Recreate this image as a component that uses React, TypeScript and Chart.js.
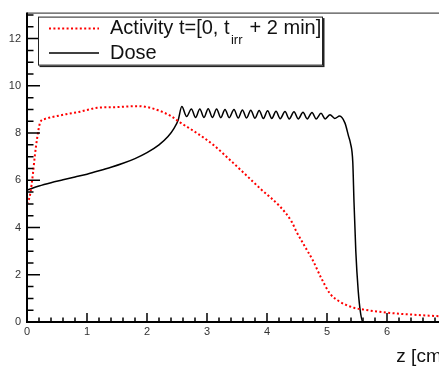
import { useEffect, useRef } from "react";
import { Chart, registerables } from "chart.js";

Chart.register(...registerables);

// ---- data ----
const doseZ = [
  0, 0.2, 0.4, 0.6, 0.8, 1.0, 1.2, 1.4, 1.6, 1.8, 2.0, 2.2, 2.35, 2.45, 2.52, 2.58,
  2.66, 2.74, 2.81, 2.88, 2.95, 3.02, 3.09, 3.16, 3.23, 3.3, 3.37, 3.45, 3.52, 3.59,
  3.66, 3.73, 3.8, 3.87, 3.94, 4.01, 4.08, 4.15, 4.22, 4.3, 4.37, 4.45, 4.52, 4.6,
  4.67, 4.75, 4.82, 4.9, 4.97, 5.05, 5.13, 5.21, 5.3, 5.36, 5.39, 5.43, 5.45, 5.48,
  5.52, 5.56, 5.6, 6.0, 7.0,
];
const doseValues = [
  5.58, 5.76, 5.9, 6.02, 6.14, 6.26, 6.4, 6.55, 6.72, 6.92, 7.17, 7.5, 7.85, 8.2, 8.55, 9.12,
  8.7, 9.02, 8.66, 9.02, 8.66, 9.03, 8.66, 9.02, 8.65, 9.0, 8.65, 9.0, 8.64, 8.98,
  8.64, 8.97, 8.63, 8.96, 8.62, 8.94, 8.62, 8.92, 8.61, 8.91, 8.6, 8.9, 8.6, 8.88,
  8.6, 8.87, 8.6, 8.84, 8.6, 8.78, 8.62, 8.72, 8.42, 7.86, 7.58, 6.75, 5.08, 3.0,
  1.33, 0.37, 0.0, 0.0, 0.0,
];
const activityZ = [
  0, 0.05, 0.1, 0.13, 0.17, 0.22, 0.3, 0.5, 0.65, 0.88, 1.0, 1.17, 1.5, 1.83, 2.0,
  2.2, 2.4, 2.55, 2.8, 3.1, 3.4, 3.66, 3.9, 4.22, 4.41, 4.49, 4.63, 4.77, 4.9, 5.05,
  5.2, 5.33, 5.45, 5.6, 5.88, 6.2, 6.5, 6.83, 7.0,
];
const activityValues = [
  5.0, 5.37, 6.3, 7.03, 7.8, 8.45, 8.6, 8.72, 8.8, 8.9, 8.98, 9.07, 9.1, 9.14, 9.1,
  8.95, 8.72, 8.45, 8.05, 7.51, 6.82, 6.2, 5.62, 4.88, 4.25, 3.83, 3.2, 2.58, 1.88, 1.2,
  0.88, 0.71, 0.6, 0.53, 0.43, 0.35, 0.3, 0.25, 0.22,
];
const xTickLabels = [0, 1, 2, 3, 4, 5, 6, 7];
const yTickLabels = [0, 2, 4, 6, 8, 10, 12];
const seriesLabels = ["Activity t=[0, t_{irr} + 2 min]", "Dose"];
const xTitle = "z [cm]";

const FONT = '"Liberation Sans", Arial, Helvetica, sans-serif';

const framePlugin = {
  id: "rootFrame",
  afterDraw(chart: any) {
    const { ctx, chartArea } = chart;
    const { left, right, top, bottom } = chartArea;
    const xs = chart.scales.x;
    const ys = chart.scales.y;
    ctx.save();
    // top / right frame
    ctx.strokeStyle = "#222";
    ctx.lineWidth = 1;
    ctx.beginPath();
    ctx.moveTo(left, top + 0.5);
    ctx.lineTo(right, top + 0.5);
    ctx.moveTo(right - 0.5, top);
    ctx.lineTo(right - 0.5, bottom);
    ctx.stroke();
    // ticks (inside)
    ctx.strokeStyle = "#000";
    ctx.lineWidth = 1.5;
    ctx.beginPath();
    for (let i = 0; i * 0.2 <= xs.max + 1e-9; i++) {
      const px = xs.getPixelForValue(i * 0.2);
      const len = i % 5 === 0 ? 9 : 4.5;
      ctx.moveTo(px, bottom);
      ctx.lineTo(px, bottom - len);
    }
    for (let i = 0; i * 0.5 <= ys.max + 1e-9; i++) {
      const py = ys.getPixelForValue(i * 0.5);
      const len = i % 4 === 0 ? 13 : 6.5;
      ctx.moveTo(left, py);
      ctx.lineTo(left + len, py);
    }
    ctx.stroke();
    // axes
    ctx.lineWidth = 2;
    ctx.beginPath();
    ctx.moveTo(left, top);
    ctx.lineTo(left, bottom + 1);
    ctx.moveTo(left - 1, bottom);
    ctx.lineTo(right, bottom);
    ctx.stroke();
    ctx.restore();
  },
};

const legendPlugin = {
  id: "rootLegend",
  afterDraw(chart: any) {
    const { ctx, chartArea } = chart;
    const bx = chartArea.left + 11;
    const by = chartArea.top + 4;
    const bw = 285;
    const bh = 49;
    ctx.save();
    ctx.fillStyle = "#222";
    ctx.fillRect(bx + 1.5, by + 1.5, bw, bh);
    ctx.fillStyle = "#fff";
    ctx.fillRect(bx, by, bw, bh);
    ctx.strokeStyle = "#222";
    ctx.lineWidth = 1;
    ctx.strokeRect(bx + 0.5, by + 0.5, bw - 1, bh - 1);

    const rows = [by + 12, by + 36.5];
    chart.data.datasets.forEach((ds: any, i: number) => {
      const cy = rows[i];
      ctx.save();
      ctx.strokeStyle = ds.borderColor;
      ctx.lineWidth = ds.borderWidth;
      ctx.setLineDash(ds.borderDash || []);
      ctx.beginPath();
      ctx.moveTo(bx + 11, cy);
      ctx.lineTo(bx + 61, cy);
      ctx.stroke();
      ctx.restore();

      ctx.fillStyle = "#111";
      ctx.textBaseline = "alphabetic";
      ctx.textAlign = "left";
      const base = cy + 5.5;
      let tx = bx + 72;
      const parts = String(ds.label).split(/_\{([^}]*)\}/);
      parts.forEach((p: string, k: number) => {
        if (k % 2 === 1) {
          ctx.font = `13px ${FONT}`;
          ctx.fillText(p, tx + 1.5, base + 10);
          tx += ctx.measureText(p).width + 3;
        } else {
          ctx.font = `20px ${FONT}`;
          ctx.fillText(p, tx, base);
          tx += ctx.measureText(p).width;
        }
      });
    });
    ctx.restore();
  },
};

export default function App() {
  const ref = useRef<HTMLCanvasElement>(null);

  useEffect(() => {
    const canvas = ref.current;
    if (!canvas) return;
    const chart = new Chart(canvas, {
      type: "line",
      data: {
        datasets: [
          {
            label: seriesLabels[0],
            data: activityZ.map((z, i) => ({ x: z, y: activityValues[i] })),
            borderColor: "#ff0000",
            borderWidth: 2,
            borderDash: [2, 2.4],
            pointRadius: 0,
            fill: false,
            cubicInterpolationMode: "monotone",
            order: 0,
          },
          {
            label: seriesLabels[1],
            data: doseZ.map((z, i) => ({ x: z, y: doseValues[i] })),
            borderColor: "#000000",
            borderWidth: 1.5,
            pointRadius: 0,
            fill: false,
            cubicInterpolationMode: "monotone",
            order: 1,
          },
        ],
      },
      options: {
        animation: false,
        responsive: false,
        devicePixelRatio: 1,
        layout: { padding: { top: 8, right: 13, left: 0, bottom: 0 } },
        plugins: {
          legend: { display: false },
          tooltip: { enabled: false },
        },
        scales: {
          x: {
            type: "linear",
            min: 0,
            max: 7,
            afterBuildTicks: (s: any) => {
              s.ticks = xTickLabels.map((v) => ({ value: v }));
            },
            afterFit: (s: any) => {
              s.height = 44;
            },
            grid: { display: false, drawTicks: false },
            border: { display: false },
            ticks: {
              padding: 3,
              autoSkip: false,
              maxRotation: 0,
              color: "#333",
              font: { family: FONT, size: 11 },
            },
            title: {
              display: true,
              text: xTitle,
              align: "end",
              color: "#111",
              font: { family: FONT, size: 19, lineHeight: 1 },
              padding: { top: 0, bottom: 0 },
            },
          },
          y: {
            type: "linear",
            min: 0,
            max: 13.1,
            afterBuildTicks: (s: any) => {
              s.ticks = yTickLabels.map((v) => ({ value: v }));
            },
            afterFit: (s: any) => {
              s.width = 27;
            },
            grid: { display: false, drawTicks: false },
            border: { display: false },
            ticks: {
              padding: 6,
              color: "#333",
              font: { family: FONT, size: 11 },
            },
          },
        },
      } as any,
      plugins: [framePlugin, legendPlugin],
    });
    return () => chart.destroy();
  }, []);

  return (
    <div
      style={{
        position: "absolute",
        left: 0,
        top: 0,
        width: 439,
        height: 366,
        overflow: "hidden",
        background: "#fff",
      }}
    >
      <canvas ref={ref} width={460} height={366} style={{ display: "block", width: 460, height: 366 }} />
    </div>
  );
}
